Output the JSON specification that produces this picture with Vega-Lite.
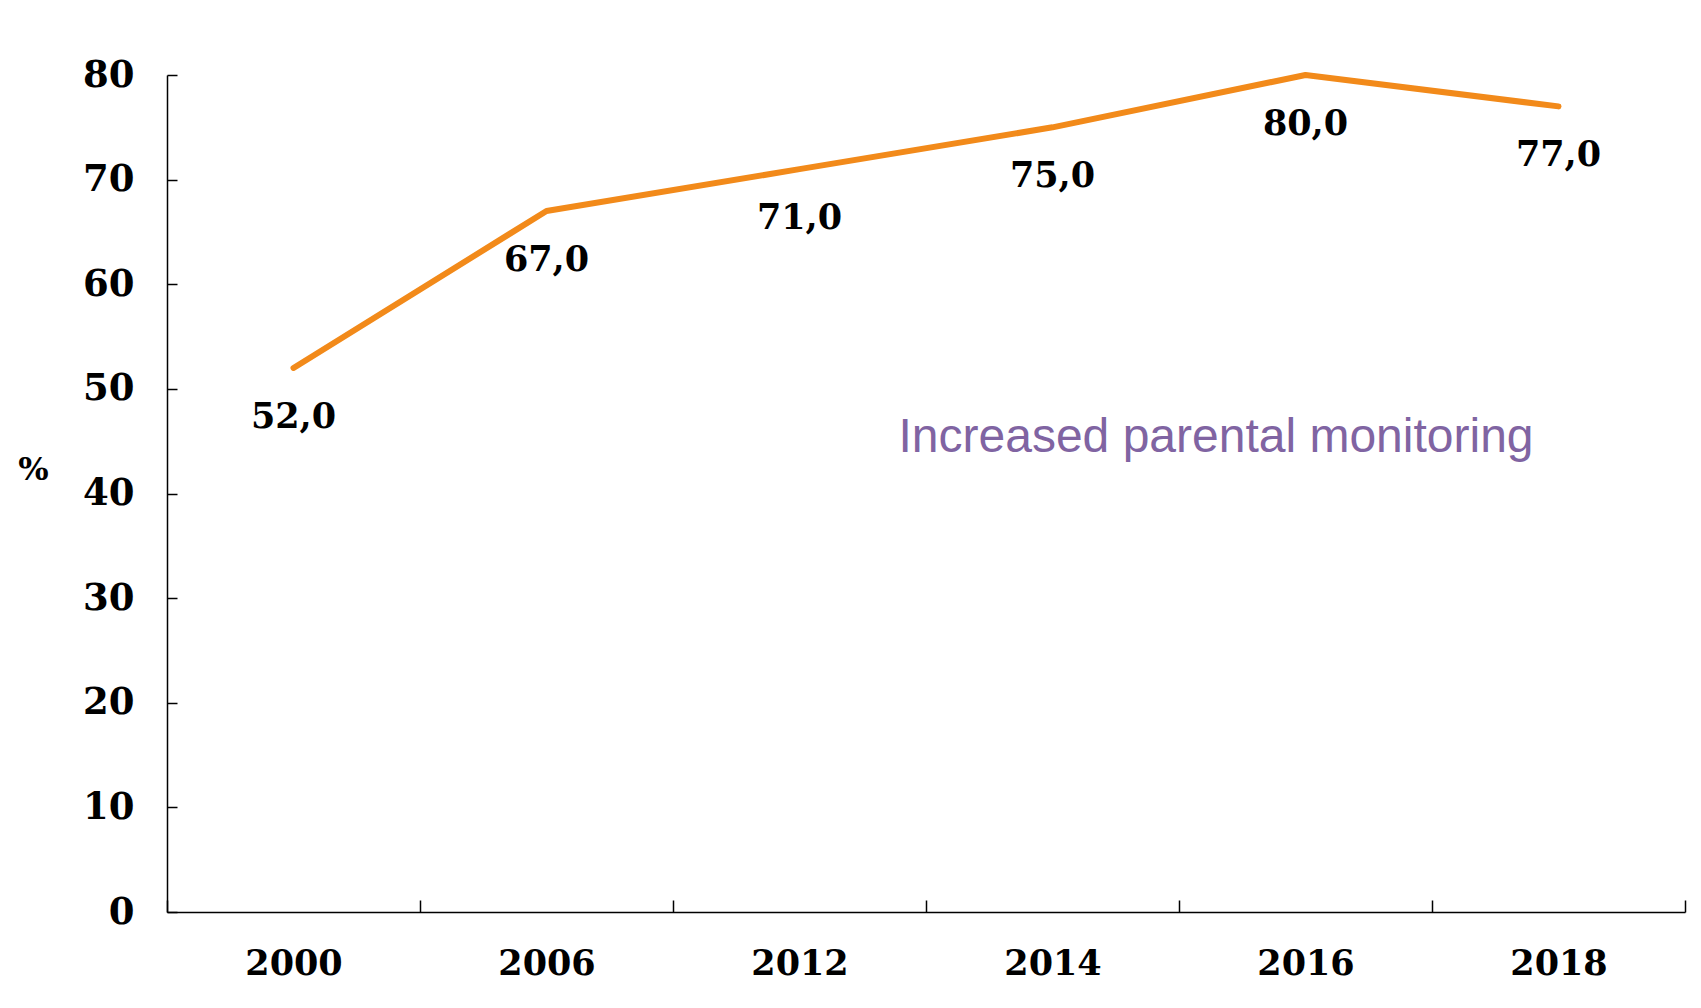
{
  "$schema": "https://vega.github.io/schema/vega-lite/v6.json",
  "width": 1518,
  "height": 837,
  "autosize": {"type": "none"},
  "padding": {"left": 167, "top": 75, "right": 16, "bottom": 96},
  "background": "white",
  "config": {
    "view": {"stroke": null},
    "axis": {
      "domainColor": "black",
      "domainWidth": 1.5,
      "tickColor": "black",
      "tickWidth": 1.5,
      "labelColor": "black",
      "grid": false,
      "labelFont": "DejaVu Serif",
      "labelFontWeight": "bold",
      "titleFont": "DejaVu Serif",
      "titleFontWeight": "bold",
      "titleColor": "black"
    }
  },
  "data": {
    "values": [
      {"year": "2000", "pct": 52, "label": "52,0"},
      {"year": "2006", "pct": 67, "label": "67,0"},
      {"year": "2012", "pct": 71, "label": "71,0"},
      {"year": "2014", "pct": 75, "label": "75,0"},
      {"year": "2016", "pct": 80, "label": "80,0"},
      {"year": "2018", "pct": 77, "label": "77,0"}
    ]
  },
  "encoding": {
    "x": {
      "field": "year",
      "type": "ordinal",
      "bandPosition": 0.5,
      "scale": {"type": "band", "paddingInner": 0, "paddingOuter": 0},
      "axis": {
        "title": null,
        "labelAngle": 0,
        "labelFontSize": 35,
        "labelPadding": 46,
        "tickSize": -12,
        "tickBand": "extent"
      }
    },
    "y": {
      "field": "pct",
      "type": "quantitative",
      "scale": {"domain": [0, 80], "nice": false},
      "axis": {
        "title": "%",
        "titleAngle": 0,
        "titleX": -134,
        "titleY": 394,
        "titleAlign": "center",
        "titleBaseline": "middle",
        "titleFontSize": 32,
        "values": [0, 10, 20, 30, 40, 50, 60, 70, 80],
        "labelFontSize": 37,
        "labelPadding": 43,
        "tickSize": -10
      }
    }
  },
  "layer": [
    {
      "mark": {"type": "line", "color": "#F28A1A", "strokeWidth": 6, "strokeCap": "round", "strokeJoin": "round"}
    },
    {
      "mark": {"type": "text", "dy": 49, "font": "DejaVu Serif", "fontWeight": "bold", "fontSize": 35, "baseline": "middle", "align": "center", "color": "black"},
      "encoding": {"text": {"field": "label", "type": "nominal"}}
    },
    {
      "data": {"values": [{"year": "2014", "pct": 44, "note": "Increased parental monitoring"}]},
      "mark": {"type": "text", "dx": -154, "align": "left", "baseline": "alphabetic", "font": "Liberation Sans", "fontSize": 48, "color": "#8064A2"},
      "encoding": {"text": {"field": "note", "type": "nominal"}}
    }
  ]
}
